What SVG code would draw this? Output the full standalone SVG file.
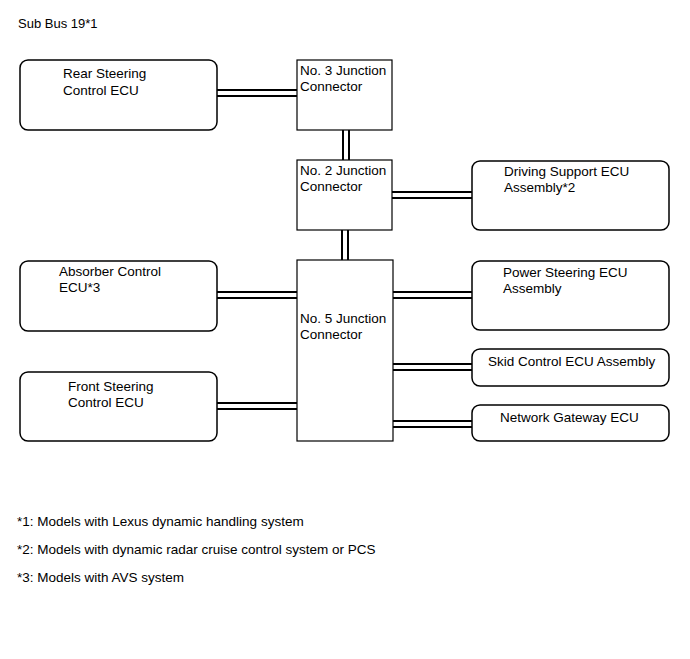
<svg xmlns="http://www.w3.org/2000/svg" width="690" height="659" viewBox="0 0 690 659">
<style>
text{font-family:"Liberation Sans",Arial,sans-serif;font-size:13.5px;fill:#000}
.ecu{fill:#fff;stroke:#000;stroke-width:1.5}
.jc{fill:#fff;stroke:#000;stroke-width:1.2}
.bus{stroke:#000;stroke-width:2;fill:none}
</style>
<rect width="690" height="659" fill="#fff"/>
<text x="18" y="28" style="font-size:13px">Sub Bus 19*1</text>
<g id="connectors">
<path class="bus" d="M217 90H297M217 96H297"/>
<path class="bus" d="M343 130V160M349 130V160"/>
<path class="bus" d="M392 192H472M392 198H472"/>
<path class="bus" d="M342 230V260M348 230V260"/>
<path class="bus" d="M217 292H297M217 298H297"/>
<path class="bus" d="M217 403H297M217 409H297"/>
<path class="bus" d="M393 292H472M393 298H472"/>
<path class="bus" d="M393 364H472M393 370H472"/>
<path class="bus" d="M393 421H472M393 427H472"/>
</g>
<g id="rear-steering">
<rect class="ecu" x="20" y="60" width="197" height="70" rx="8"/>
<text x="63" y="78">Rear Steering</text>
<text x="63" y="94.5">Control ECU</text>
</g>
<g id="jc3">
<rect class="jc" x="297" y="60" width="95" height="70"/>
<text x="300" y="75">No. 3 Junction</text>
<text x="300" y="91">Connector</text>
</g>
<g id="jc2">
<rect class="jc" x="297" y="160" width="95" height="70"/>
<text x="300" y="175">No. 2 Junction</text>
<text x="300" y="191">Connector</text>
</g>
<g id="driving-support">
<rect class="ecu" x="472" y="161" width="197" height="69" rx="8"/>
<text x="504" y="176">Driving Support ECU</text>
<text x="504" y="192">Assembly*2</text>
</g>
<g id="absorber">
<rect class="ecu" x="20" y="261" width="197" height="70" rx="8"/>
<text x="59" y="276">Absorber Control</text>
<text x="59" y="292">ECU*3</text>
</g>
<g id="jc5">
<rect class="jc" x="297" y="260" width="96" height="181"/>
<text x="300" y="323">No. 5 Junction</text>
<text x="300" y="339">Connector</text>
</g>
<g id="front-steering">
<rect class="ecu" x="20" y="372" width="197" height="69" rx="8"/>
<text x="68" y="391">Front Steering</text>
<text x="68" y="407">Control ECU</text>
</g>
<g id="power-steering">
<rect class="ecu" x="472" y="261" width="197" height="69" rx="8"/>
<text x="503" y="277">Power Steering ECU</text>
<text x="503" y="293">Assembly</text>
</g>
<g id="skid-control">
<rect class="ecu" x="472" y="349" width="197" height="37" rx="8"/>
<text x="488" y="366">Skid Control ECU Assembly</text>
</g>
<g id="network-gateway">
<rect class="ecu" x="472" y="405" width="197" height="36" rx="8"/>
<text x="500" y="422">Network Gateway ECU</text>
</g>
<text x="17" y="526">*1: Models with Lexus dynamic handling system</text>
<text x="17" y="554">*2: Models with dynamic radar cruise control system or PCS</text>
<text x="17" y="582">*3: Models with AVS system</text>
</svg>
